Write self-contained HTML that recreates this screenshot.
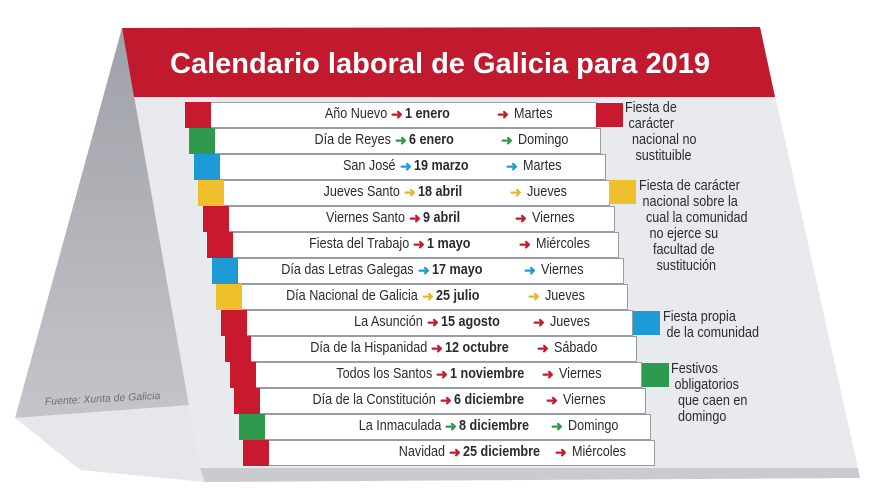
<!DOCTYPE html>
<html><head><meta charset="utf-8"><style>
body{margin:0;width:880px;height:495px;overflow:hidden;background:#fff;position:relative;font-family:"Liberation Sans Narrow","Liberation Sans",sans-serif;}
svg.bg{position:absolute;left:0;top:0}
.row{position:absolute;height:25px;width:412px;}
.sw{position:absolute;left:0;top:0;width:26px;height:26px}
.cell{position:absolute;left:26px;top:0;right:0;height:24px;background:#fff;border:1px solid #9a9ca3;border-left:none}
.n{position:absolute;right:210px;top:3px;font-size:15px;color:#2b2b2e;white-space:nowrap;transform:scaleX(.84);transform-origin:right center}
.a{position:absolute;top:4px;font-size:14px;font-weight:bold}
.a1{left:206px}.a2{left:312px}
.d{position:absolute;left:220px;top:3px;font-size:15px;font-weight:bold;color:#2b2b2e;white-space:nowrap;transform:scaleX(.84);transform-origin:left center}
.w{position:absolute;left:329px;top:3px;font-size:15px;color:#2b2b2e;white-space:nowrap;transform:scaleX(.84);transform-origin:left center}
.R .sw{background:#c8192f}.R .a{color:#c8192f}
.G .sw{background:#2e9a4e}.G .a{color:#2e9a4e}
.B .sw{background:#1e9bd7}.B .a{color:#1e9bd7}
.Y .sw{background:#f0c02c}.Y .a{color:#e6b82a}
.lg{position:absolute;width:27px;height:24px}
.lt{position:absolute;font-size:15px;color:#2b2b2e;line-height:16px;white-space:nowrap;transform:scaleX(.84);transform-origin:left top}
</style></head><body>
<svg class="bg" width="880" height="495">
<defs><linearGradient id="gs" x1="0" y1="0" x2="0" y2="1"><stop offset="0" stop-color="#9ea1a7"/><stop offset="1" stop-color="#c3c5ca"/></linearGradient></defs>
<polygon points="122,28 15,418 192,405" fill="url(#gs)"/>
<polygon points="15,418 192,405 205,482 80,470" fill="#e6e7ea"/>
<polygon points="200,468 858,468 860,478 205,482" fill="#c9cbd0"/>
<polygon points="122,28 760,27 858,468 200,468" fill="#e8eaee"/>
<polygon points="122,28 760,27 775,97 134,97" fill="#c1192e"/>
<text x="440" y="73" text-anchor="middle" fill="#fff" font-family="Liberation Sans" font-weight="bold" font-size="29">Calendario laboral de Galicia para 2019</text>
<text x="45" y="405" fill="#6e7078" font-family="Liberation Sans" font-style="italic" font-size="10.5" transform="rotate(-3 45 405)">Fuente: Xunta de Galicia</text>
</svg>

<div class="row R" style="left:185px;top:102px"><div class="sw"></div><div class="cell"></div><span class="n">Año Nuevo</span><span class="a a1">➜</span><span class="d">1 enero</span><span class="a a2">➜</span><span class="w">Martes</span></div>
<div class="row G" style="left:189px;top:128px"><div class="sw"></div><div class="cell"></div><span class="n">Día de Reyes</span><span class="a a1">➜</span><span class="d">6 enero</span><span class="a a2">➜</span><span class="w">Domingo</span></div>
<div class="row B" style="left:194px;top:154px"><div class="sw"></div><div class="cell"></div><span class="n">San José</span><span class="a a1">➜</span><span class="d">19 marzo</span><span class="a a2">➜</span><span class="w">Martes</span></div>
<div class="row Y" style="left:198px;top:180px"><div class="sw"></div><div class="cell"></div><span class="n">Jueves Santo</span><span class="a a1">➜</span><span class="d">18 abril</span><span class="a a2">➜</span><span class="w">Jueves</span></div>
<div class="row R" style="left:203px;top:206px"><div class="sw"></div><div class="cell"></div><span class="n">Viernes Santo</span><span class="a a1">➜</span><span class="d">9 abril</span><span class="a a2">➜</span><span class="w">Viernes</span></div>
<div class="row R" style="left:207px;top:232px"><div class="sw"></div><div class="cell"></div><span class="n">Fiesta del Trabajo</span><span class="a a1">➜</span><span class="d">1 mayo</span><span class="a a2">➜</span><span class="w">Miércoles</span></div>
<div class="row B" style="left:212px;top:258px"><div class="sw"></div><div class="cell"></div><span class="n">Día das Letras Galegas</span><span class="a a1">➜</span><span class="d">17 mayo</span><span class="a a2">➜</span><span class="w">Viernes</span></div>
<div class="row Y" style="left:216px;top:284px"><div class="sw"></div><div class="cell"></div><span class="n">Día Nacional de Galicia</span><span class="a a1">➜</span><span class="d">25 julio</span><span class="a a2">➜</span><span class="w">Jueves</span></div>
<div class="row R" style="left:221px;top:310px"><div class="sw"></div><div class="cell"></div><span class="n">La Asunción</span><span class="a a1">➜</span><span class="d">15 agosto</span><span class="a a2">➜</span><span class="w">Jueves</span></div>
<div class="row R" style="left:225px;top:336px"><div class="sw"></div><div class="cell"></div><span class="n">Día de la Hispanidad</span><span class="a a1">➜</span><span class="d">12 octubre</span><span class="a a2">➜</span><span class="w">Sábado</span></div>
<div class="row R" style="left:230px;top:362px"><div class="sw"></div><div class="cell"></div><span class="n">Todos los Santos</span><span class="a a1">➜</span><span class="d">1 noviembre</span><span class="a a2">➜</span><span class="w">Viernes</span></div>
<div class="row R" style="left:234px;top:388px"><div class="sw"></div><div class="cell"></div><span class="n">Día de la Constitución</span><span class="a a1">➜</span><span class="d">6 diciembre</span><span class="a a2">➜</span><span class="w">Viernes</span></div>
<div class="row G" style="left:239px;top:414px"><div class="sw"></div><div class="cell"></div><span class="n">La Inmaculada</span><span class="a a1">➜</span><span class="d">8 diciembre</span><span class="a a2">➜</span><span class="w">Domingo</span></div>
<div class="row R" style="left:243px;top:440px"><div class="sw"></div><div class="cell"></div><span class="n">Navidad</span><span class="a a1">➜</span><span class="d">25 diciembre</span><span class="a a2">➜</span><span class="w">Miércoles</span></div>

<div class="lg" style="left:596px;top:103px;background:#c8192f"></div>
<div class="lt" style="left:625px;top:100px">Fiesta de<br>&nbsp;carácter<br>&nbsp;&nbsp;nacional no<br>&nbsp;&nbsp;&nbsp;sustituible</div>
<div class="lg" style="left:609px;top:180px;background:#f0c02c"></div>
<div class="lt" style="left:639px;top:178px">Fiesta de carácter<br>&nbsp;nacional sobre la<br>&nbsp;&nbsp;cual la comunidad<br>&nbsp;&nbsp;&nbsp;no ejerce su<br>&nbsp;&nbsp;&nbsp;&nbsp;facultad de<br>&nbsp;&nbsp;&nbsp;&nbsp;&nbsp;sustitución</div>
<div class="lg" style="left:633px;top:311px;background:#1e9bd7"></div>
<div class="lt" style="left:663px;top:309px">Fiesta propia<br>&nbsp;de la comunidad</div>
<div class="lg" style="left:642px;top:363px;background:#2e9a4e"></div>
<div class="lt" style="left:671px;top:361px">Festivos<br>&nbsp;obligatorios<br>&nbsp;&nbsp;que caen en<br>&nbsp;&nbsp;domingo</div>
</body></html>
